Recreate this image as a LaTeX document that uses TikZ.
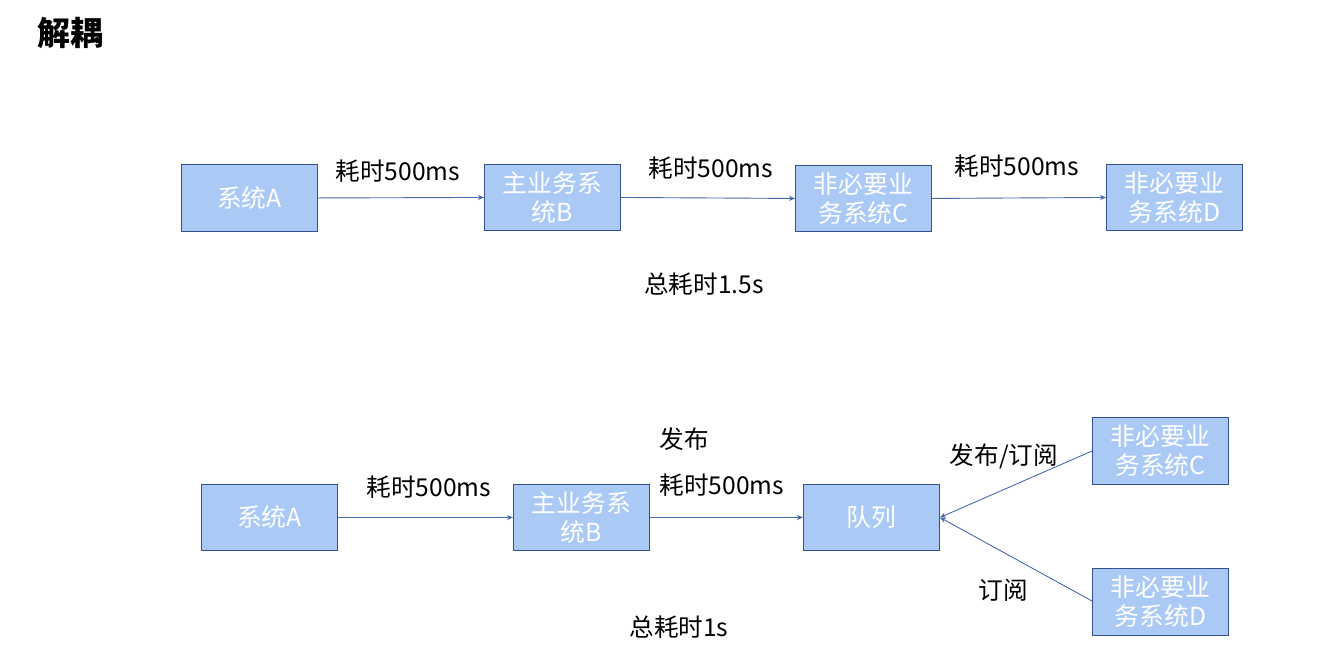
\documentclass[tikz,border=0pt]{standalone}
\usepackage{fontspec}
\setmainfont{Noto Sans CJK SC}
\usetikzlibrary{arrows.meta}
\definecolor{boxfill}{RGB}{170,201,245}
\definecolor{boxdraw}{RGB}{52,82,145}
\definecolor{linecol}{RGB}{72,104,176}
\tikzset{
  sysbox/.style={draw=boxdraw, line width=0.9pt, fill=boxfill, text=white, minimum width=136pt, minimum height=66pt, inner sep=0pt, align=center, font=\fontsize{24.8}{29}\selectfont, anchor=north west},
  lbl/.style={font=\fontsize{24.6}{28}\selectfont, text=black, inner sep=0pt},
  conn/.style={draw=linecol, line width=0.9pt, -{Stealth[length=6pt,width=5pt]}}
}
\begin{document}
\begin{tikzpicture}[x=1pt,y=-1pt]
\useasboundingbox (0,0) rectangle (1320,657);
\node[font=\bfseries\fontsize{33}{36}\selectfont, inner sep=0pt] (title) at (70,33) {解耦};
% top row
\node[sysbox, minimum height=67pt] (a1) at (181,164) {系统A};
\node[sysbox] (b1) at (484,164) {主业务系\\统B};
\node[sysbox] (c1) at (795,165) {非必要业\\务系统C};
\node[sysbox] (d1) at (1106,164) {非必要业\\务系统D};
\draw[conn] (a1.east) -- (b1.west);
\draw[conn] (b1.east) -- (c1.west);
\draw[conn] (c1.east) -- (d1.west);
\node[lbl] (l1) at (398,171) {耗时500ms};
\node[lbl] (l2) at (711,168) {耗时500ms};
\node[lbl] (l3) at (1017,166) {耗时500ms};
\node[lbl] (t1) at (704,284) {总耗时1.5s};
% bottom row
\node[sysbox] (a2) at (201,484) {系统A};
\node[sysbox] (b2) at (513,484) {主业务系\\统B};
\node[sysbox] (q) at (803,484) {队列};
\node[sysbox, minimum height=67pt] (c2) at (1092,417) {非必要业\\务系统C};
\node[sysbox, minimum height=67pt] (d2) at (1092,568) {非必要业\\务系统D};
\draw[conn] (a2.east) -- (b2.west);
\draw[conn] (b2.east) -- (q.west);
\coordinate (cpt) at (1092,451);
\coordinate (dpt) at (1092,601);
\draw[conn] (cpt) -- (q.east);
\draw[conn] (dpt) -- (q.east);
\node[lbl] (l4) at (429,487) {耗时500ms};
\node[lbl] (l5) at (684,439) {发布};
\node[lbl] (l6) at (722,485) {耗时500ms};
\node[lbl] (l7) at (1004,456) {发布/订阅};
\node[lbl] (l8) at (1003,590) {订阅};
\node[lbl] (t2) at (679,627) {总耗时1s};
\end{tikzpicture}
\end{document}
